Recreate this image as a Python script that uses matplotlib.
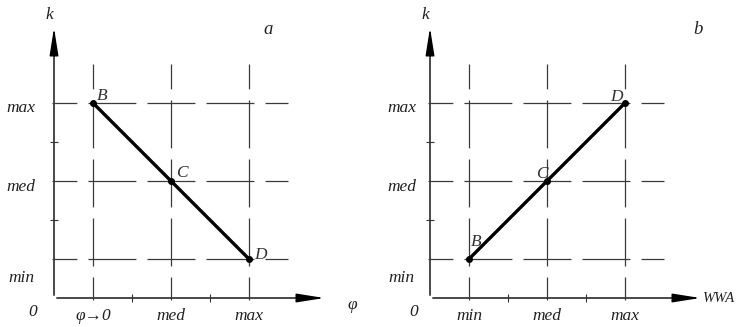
import matplotlib
matplotlib.use('Agg')
import matplotlib.pyplot as plt
from matplotlib.patches import FancyArrowPatch

plt.rcParams['font.family'] = ['Liberation Serif', 'DejaVu Serif']
plt.rcParams['font.style'] = 'italic'
plt.rcParams['lines.scale_dashes'] = False

# data
levels = [1, 2, 3]
y_labels = ['min', 'med', 'max']
x_labels_a = ['φ→0', 'med', 'max']
x_labels_b = ['min', 'med', 'max']
point_names = ['B', 'C', 'D']
k_a = [3, 2, 1]   # k falls as phi grows
k_b = [1, 2, 3]   # k rises with WWA

TXT = '#222222'
GRID = '#3a3a3a'
FS = 12.5

fig = plt.figure(figsize=(7.38, 3.27), dpi=100)


def panel(left_px, xlabels, k, xname, letter, ylab_x, name_offsets, xname_pos):
    ax = fig.add_axes([left_px / 738, 29 / 327, 273 / 738, 273 / 327])
    ax.set_xlim(0.5, 4.0)
    ax.set_ylim(0.5, 4.0)
    for s in ax.spines.values():
        s.set_visible(False)

    # dashed grid at min/med/max
    ls = (16.6, (34.5, 8))
    for v in levels:
        ax.plot([0.47, 3.5], [v, v], color=GRID, lw=0.9, ls=ls, clip_on=False)
        ax.plot([v, v], [3.5, 0.47], color=GRID, lw=0.9, ls=ls, clip_on=False)

    # axes with arrows
    for end in [(0.5, 4.0), (4.0, 0.5)]:
        arr = FancyArrowPatch((0.5, 0.5), end, arrowstyle='-|>,head_length=1.7,head_width=0.27',
                              mutation_scale=10, color='black', lw=1.0, clip_on=False)
        ax.add_patch(arr)

    # ticks
    ax.set_xticks(levels, xlabels)
    ax.set_yticks([])
    ax.set_xticks([1.5, 2.5], minor=True)
    ax.set_yticks([1.5, 2.5], minor=True)
    ax.tick_params(which='major', length=0, pad=7, labelsize=FS, labelcolor=TXT)
    ax.tick_params(which='minor', direction='inout', length=6, width=0.8, color='#333333')
    ax.tick_params(axis='y', which='minor', labelleft=False)

    # y labels
    y_off = [-0.24, -0.075, -0.065]
    for v, lab, off in zip(levels, y_labels, y_off):
        ax.text(ylab_x, v + off, lab, ha='center', va='center', fontsize=FS, color=TXT, clip_on=False)

    # main line
    ax.plot(levels, k, color='black', lw=2.4, marker='o', ms=4, solid_capstyle='round')
    for x, y, n, off in zip(levels, k, point_names, name_offsets):
        ax.annotate(n, (x, y), xytext=off, textcoords='offset points', ha='center', va='center',
                    fontsize=FS, color='#333333')

    ax.text(0.5 - 0.06, 4.13, 'k', ha='center', va='center', fontsize=FS, color=TXT, clip_on=False)
    ax.text(xname_pos[0], xname_pos[1], xname, ha=xname_pos[2], va='center', fontsize=xname_pos[3],
            color=TXT, clip_on=False)
    ax.text(ylab_x + 0.15, 0.32, '0', ha='center', va='center', fontsize=FS, color=TXT, clip_on=False)
    ax.text(3.24 if letter == 'a' else 3.94, 3.94, letter, ha='center', va='center', fontsize=FS + 1,
            color=TXT, clip_on=False)
    return ax


panel(54, x_labels_a, k_a, 'φ', 'a', 0.08,
      [(6.5, 5), (8, 6), (8, 3)], (4.32, 0.41, 'center', FS))
panel(430, x_labels_b, k_b, 'WWA', 'b', 0.14,
      [(5, 12), (-3.6, 5), (-6.5, 4.3)], (3.99, 0.5, 'left', 10.5))

fig.savefig('out.png', dpi=100)
